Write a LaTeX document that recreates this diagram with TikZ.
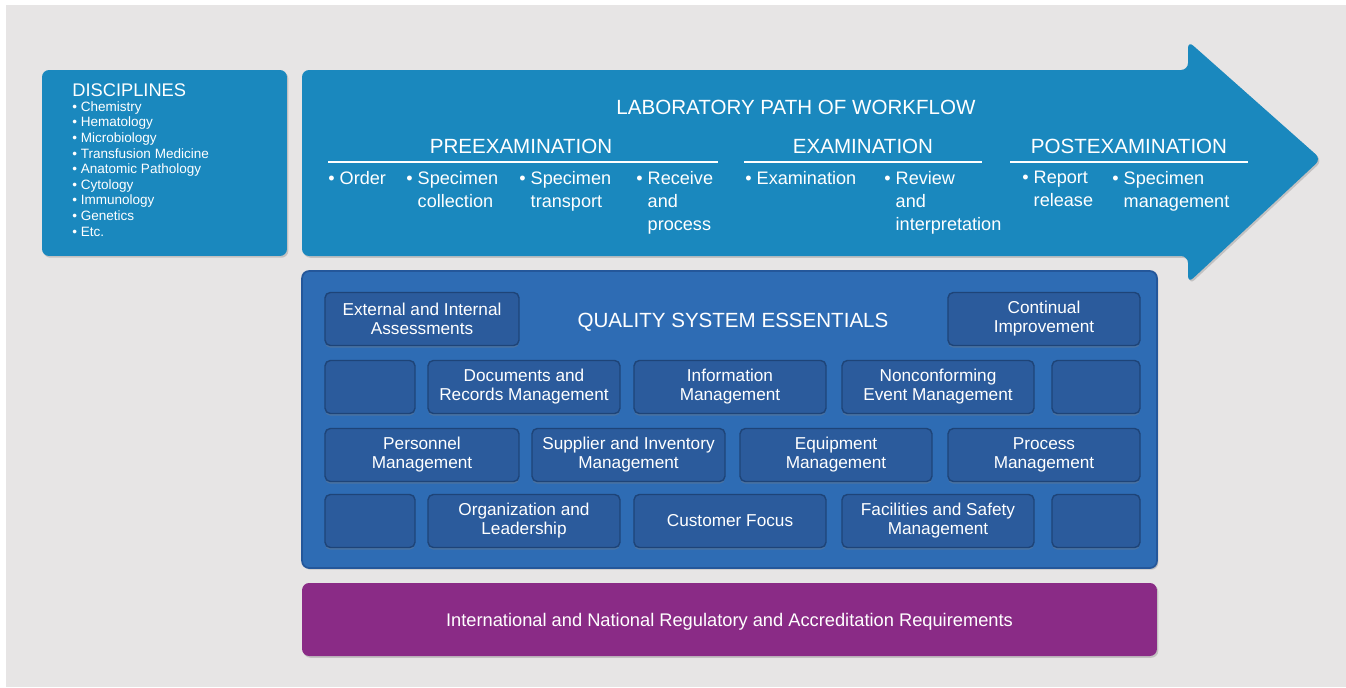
\documentclass[tikz,border=0pt]{standalone}
\usepackage{fontspec}
\setmainfont{Liberation Sans}
\usetikzlibrary{shadows}

\definecolor{bggray}{HTML}{E7E5E5}
\definecolor{labteal}{HTML}{1A88BE}
\definecolor{qseblue}{HTML}{2E6CB4}
\definecolor{qseedge}{HTML}{24579A}
\definecolor{tileblue}{HTML}{2B5B9C}
\definecolor{tileedge}{HTML}{1E4478}
\definecolor{regpurple}{HTML}{8A2B86}

\tikzset{
  panel/.style={rounded corners=4pt, drop shadow={opacity=0.35, shadow xshift=0.8pt, shadow yshift=-1pt}},
  tile/.style={draw=tileedge, line width=0.8pt, fill=tileblue, rounded corners=3pt,
    minimum height=1.06cm, inner sep=0pt, text=white, align=center,
    font=\fontsize{9.8}{10.8}\selectfont,
    drop shadow={opacity=0.35, shadow xshift=0pt, shadow yshift=-1.2pt}},
  heading/.style={text=white, inner sep=0pt, font=\fontsize{11.7}{13}\selectfont},
  item/.style={text=white, anchor=north west, align=left, inner sep=0pt,
    font=\fontsize{10.3}{13}\selectfont},
  disc/.style={text=white, anchor=north west, align=left, inner sep=0pt,
    font=\fontsize{7.7}{8.9}\selectfont},
  phaseline/.style={draw=white, line width=0.8pt},
}
\newcommand{\cont}{\phantom{\textbullet\ }}

\begin{document}
\begin{tikzpicture}[x=0.02cm, y=-0.02cm]
  \fill[white] (0,0) rectangle (1346,687);
  \fill[bggray] (6,5) rectangle (1346,687);

  % disciplines
  \node[panel, fill=labteal, minimum width=4.9cm, minimum height=3.72cm] (discbox) at (164.5,163) {};
  \node[heading, anchor=west, font=\fontsize{10.4}{12}\selectfont] (disctitle) at (72,90) {DISCIPLINES};
  \node[disc] (disclist) at (72,101) {\textbullet\ Chemistry\\ \textbullet\ Hematology\\ \textbullet\ Microbiology\\
    \textbullet\ Transfusion Medicine\\ \textbullet\ Anatomic Pathology\\ \textbullet\ Cytology\\
    \textbullet\ Immunology\\ \textbullet\ Genetics\\ \textbullet\ Etc.};

  % workflow arrow
  \path[panel, fill=labteal] (302,70) -- (1188,70) -- (1188,41) -- (1321,159)
    -- (1188,283) -- (1188,256) -- (302,256) -- cycle;
  \node[heading] (workflow) at (796,107) {LABORATORY PATH OF WORKFLOW};
  \node[heading] (preexam) at (521,146) {PREEXAMINATION};
  \node[heading] (exam) at (863,146) {EXAMINATION};
  \node[heading] (postexam) at (1129,146) {POSTEXAMINATION};
  \draw[phaseline] (328,162) -- (718,162);
  \draw[phaseline] (744,162) -- (982,162);
  \draw[phaseline] (1010,162) -- (1248,162);

  \node[item] (order) at (328,171) {\textbullet\ Order};
  \node[item] (collect) at (406,171) {\textbullet\ Specimen\\ \cont collection};
  \node[item] (transport) at (519,171) {\textbullet\ Specimen\\ \cont transport};
  \node[item] (receive) at (636,171) {\textbullet\ Receive\\ \cont and\\ \cont process};
  \node[item] (examine) at (745,171) {\textbullet\ Examination};
  \node[item] (review) at (884,171) {\textbullet\ Review\\ \cont and\\ \cont interpretation};
  \node[item] (report) at (1022,171) {\textbullet\ Report\\ \cont release};
  \node[item] (specmgmt) at (1112,171) {\textbullet\ Specimen\\ \cont management};

  % quality system essentials
  \node[panel, draw=qseedge, line width=1pt, fill=qseblue, minimum width=17.1cm, minimum height=5.94cm] (qse) at (729.5,419.5) {};
  \node[heading] (qsetitle) at (733,322) {QUALITY SYSTEM ESSENTIALS};

  \node[tile, minimum width=3.88cm] (assess) at (422,319) {External and Internal\\ Assessments};
  \node[tile, minimum width=3.84cm] (improve) at (1044,319) {Continual\\ Improvement};

  \node[tile, minimum width=1.8cm] (blankA) at (370,387) {};
  \node[tile, minimum width=3.84cm] (documents) at (524,387) {Documents and\\ Records Management};
  \node[tile, minimum width=3.84cm] (information) at (730,387) {Information\\ Management};
  \node[tile, minimum width=3.84cm] (nonconform) at (938,387) {Nonconforming\\ Event Management};
  \node[tile, minimum width=1.76cm] (blankB) at (1096,387) {};

  \node[tile, minimum width=3.88cm] (personnel) at (422,455) {Personnel\\ Management};
  \node[tile, minimum width=3.86cm] (supplier) at (628.5,455) {Supplier and Inventory\\ Management};
  \node[tile, minimum width=3.84cm] (equipment) at (836,455) {Equipment\\ Management};
  \node[tile, minimum width=3.84cm] (process) at (1044,455) {Process\\ Management};

  \node[tile, minimum width=1.8cm] (blankC) at (370,521) {};
  \node[tile, minimum width=3.84cm] (organization) at (524,521) {Organization and\\ Leadership};
  \node[tile, minimum width=3.84cm] (customer) at (730,521) {Customer Focus};
  \node[tile, minimum width=3.84cm] (facilities) at (938,521) {Facilities and Safety\\ Management};
  \node[tile, minimum width=1.76cm] (blankD) at (1096,521) {};

  % requirements
  \node[panel, fill=regpurple, minimum width=17.1cm, minimum height=1.46cm, text=white,
    text depth=0pt, font=\fontsize{10.4}{11}\selectfont] (requirements) at (729.5,619.5)
    {International and National Regulatory and Accreditation Requirements};
\end{tikzpicture}
\end{document}
